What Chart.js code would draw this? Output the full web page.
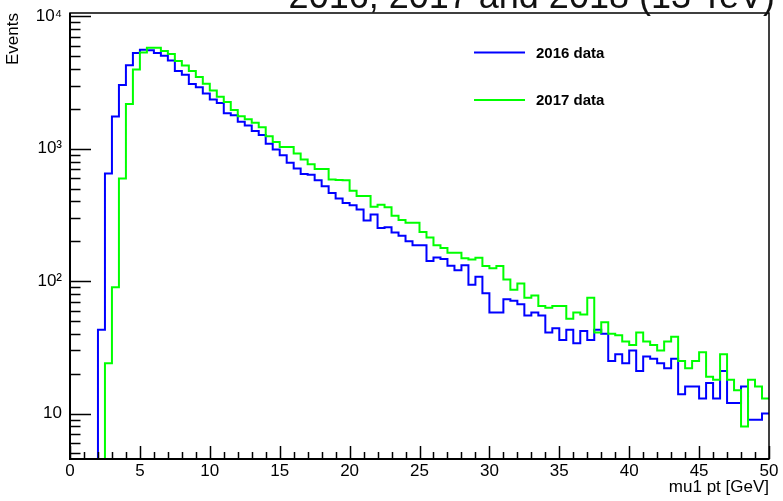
<!DOCTYPE html>
<html>
<head>
<meta charset="utf-8">
<script src="https://cdn.jsdelivr.net/npm/chart.js@4.4.1/dist/chart.umd.min.js"></script>
<style>
  html, body { margin: 0; padding: 0; background: #fff; }
  #wrap { width: 783px; height: 501px; }
</style>
</head>
<body>
<div id="wrap"><canvas id="muChart" width="783" height="501"></canvas></div>
<script>
/* mu1 pt histograms: 100 bins of 0.5 GeV, 0 - 50 GeV */

const xMin = 0;
const xMax = 50;
const binWidth = 0.5;

const counts2016 = [
    0, 0, 0, 0, 43, 650, 1750, 3030, 4270, 5280,
    5600, 5550, 5280, 5040, 4630, 3860, 3620, 3080, 2910, 2610,
    2350, 2210, 1850, 1790, 1600, 1500, 1360, 1270, 1090, 986,
    893, 782, 709, 645, 635, 578, 521, 464, 421, 390,
    375, 348, 287, 318, 252, 255, 233, 220, 200, 187,
    187, 142, 151, 147, 131, 121, 132, 94, 108, 81,
    58, 58, 73, 71, 67, 55, 58, 55, 41, 44,
    36, 43, 34, 42, 36, 43, 40, 25, 28, 24,
    30, 21, 27, 26, 24, 22, 26, 14, 16, 16,
    13, 17, 13, 21, 12, 12, 16, 9, 9, 10
];

const counts2017 = [
    0, 0, 0, 0, 0, 24, 90, 595, 2180, 3970,
    5320, 5780, 5780, 5470, 5190, 4600, 4250, 3860, 3480, 3100,
    2750, 2470, 2250, 1960, 1760, 1670, 1570, 1450, 1240, 1125,
    1030, 1030, 920, 828, 763, 704, 704, 585, 580, 578,
    481, 440, 440, 364, 377, 362, 312, 289, 276, 276,
    235, 214, 187, 178, 164, 164, 149, 146, 150, 130,
    125, 130, 103, 86, 96, 75, 78, 65, 63, 65,
    65, 52, 58, 56, 75, 41, 49, 40, 39, 35,
    33, 41, 35, 33, 30, 35, 38, 25, 22, 25,
    29, 19, 18, 28, 18, 15, 8, 18, 16, 13
];

const seriesNames = ["2016 data", "2017 data"];
const seriesColors = ["#0000ff", "#00ff00"];

const yMin = 4.54;
const yMax = 10590;
const yTickValues = [10, 100, 1000, 10000];
const yTickLabels = ["10", "10²", "10³", "10⁴"];
const xTickValues = [0, 5, 10, 15, 20, 25, 30, 35, 40, 45, 50];
const xTickLabels = ["0", "5", "10", "15", "20", "25", "30", "35", "40", "45", "50"];

const titleText = "2016, 2017 and 2018 (13 TeV)";
const xTitle = "mu1 pt [GeV]";
const yTitle = "Events";

const FONT = "'Liberation Sans', Arial, Helvetica, sans-serif";
Chart.defaults.font.family = FONT;
Chart.defaults.color = "#000";

// bin left edges -> stepped line points, empty bins sit on the bottom of the frame
function histPoints(counts) {
    const pts = counts.map((c, i) => ({ x: xMin + i * binWidth, y: c > 0 ? c : yMin }));
    pts.push({ x: xMax, y: pts[pts.length - 1].y });
    return pts;
}

// ROOT-like frame, inward ticks, title and legend
const rootFrame = {
    id: "rootFrame",
    afterDatasetsDraw(chart) {
        const { ctx, chartArea: a, scales } = chart;
        ctx.save();
        ctx.strokeStyle = "#000";

        ctx.lineWidth = 1.5;
        ctx.strokeRect(a.left, a.top, a.right - a.left, a.bottom - a.top);

        ctx.beginPath();
        scales.y.ticks.forEach(t => {
            const y = Math.round(scales.y.getPixelForValue(t.value)) + 0.5;
            const len = t.major ? 21 : 10.5;
            ctx.moveTo(a.left, y);
            ctx.lineTo(a.left + len, y);
        });
        scales.x.ticks.forEach(t => {
            const x = Math.round(scales.x.getPixelForValue(t.value)) + 0.5;
            const len = t.major ? 13 : 7;
            ctx.moveTo(x, a.bottom);
            ctx.lineTo(x, a.bottom - len);
        });
        ctx.lineWidth = 1.5;
        ctx.stroke();

        ctx.beginPath();
        ctx.lineWidth = 2;
        ctx.moveTo(a.left, a.top);
        ctx.lineTo(a.left, a.bottom);
        ctx.lineTo(a.right, a.bottom);
        ctx.stroke();
        ctx.restore();
    },
    afterDraw(chart) {
        const { ctx, chartArea: a } = chart;
        ctx.save();

        ctx.fillStyle = "#111";
        ctx.font = "36px " + FONT;
        ctx.textAlign = "right";
        ctx.textBaseline = "alphabetic";
        ctx.fillText(titleText, 775, 8);

        const legX = a.left + (a.right - a.left) * 0.578;
        const legY = [52.5, 100];
        ctx.font = "bold 15px " + FONT;
        ctx.textAlign = "left";
        ctx.textBaseline = "middle";
        chart.data.datasets.slice().sort((p, q) => p.legendIndex - q.legendIndex).forEach((ds, i) => {
            ctx.strokeStyle = ds.borderColor;
            ctx.lineWidth = 2;
            ctx.beginPath();
            ctx.moveTo(legX, legY[i]);
            ctx.lineTo(legX + 51, legY[i]);
            ctx.stroke();
            ctx.fillStyle = "#000";
            ctx.fillText(ds.label, legX + 62, legY[i] + 1);
        });
        ctx.restore();
    }
};

new Chart(document.getElementById("muChart"), {
    type: "line",
    data: {
        datasets: [
            {
                label: seriesNames[0],
                legendIndex: 0,
                data: histPoints(counts2016),
                borderColor: seriesColors[0],
                borderWidth: 2,
                stepped: "before",
                pointRadius: 0,
                order: 1,
                clip: 0
            },
            {
                label: seriesNames[1],
                legendIndex: 1,
                data: histPoints(counts2017),
                borderColor: seriesColors[1],
                borderWidth: 2,
                stepped: "before",
                pointRadius: 0,
                order: 0,
                clip: 0
            }
        ]
    },
    options: {
        responsive: false,
        animation: false,
        layout: { padding: { top: 13, right: 14, left: 0, bottom: 0 } },
        plugins: {
            legend: { display: false },
            tooltip: { enabled: false }
        },
        scales: {
            x: {
                type: "linear",
                min: xMin,
                max: xMax,
                afterBuildTicks(scale) {
                    const t = [];
                    for (let v = xMin; v <= xMax; v += 1) t.push({ value: v, major: v % 5 === 0 });
                    scale.ticks = t;
                },
                afterFit(scale) {
                    scale.height = 42;
                    scale.paddingLeft = 0;
                    scale.paddingRight = 0;
                },
                grid: { display: false, drawTicks: false },
                border: { display: false },
                ticks: {
                    autoSkip: false,
                    maxRotation: 0,
                    padding: 2,
                    color: "#000",
                    font: { size: 17 },
                    callback(v) {
                        const i = xTickValues.indexOf(v);
                        return i >= 0 ? xTickLabels[i] : "";
                    }
                },
                title: {
                    display: true,
                    text: xTitle,
                    align: "end",
                    color: "#000",
                    font: { size: 17 },
                    padding: { top: 0, bottom: 3 }
                }
            },
            y: {
                type: "logarithmic",
                min: yMin,
                max: yMax,
                afterBuildTicks(scale) {
                    const t = [];
                    for (let d = 1; d <= 10000; d *= 10) {
                        for (let m = 1; m <= 9; m++) {
                            const v = d * m;
                            if (v >= yMin && v <= yMax) t.push({ value: v, major: m === 1 });
                        }
                    }
                    scale.ticks = t;
                },
                afterFit(scale) {
                    scale.width = 70;
                    scale.paddingTop = 0;
                    scale.paddingBottom = 0;
                },
                grid: { display: false, drawTicks: false },
                border: { display: false },
                ticks: {
                    autoSkip: false,
                    padding: 8,
                    color: "#000",
                    font: { size: 17 },
                    callback(v) {
                        const i = yTickValues.indexOf(v);
                        return i >= 0 ? yTickLabels[i] : "";
                    }
                },
                title: {
                    display: true,
                    text: yTitle,
                    align: "end",
                    color: "#000",
                    font: { size: 17 },
                    padding: { top: 3, bottom: 0 }
                }
            }
        }
    },
    plugins: [rootFrame]
});
</script>
</body>
</html>
